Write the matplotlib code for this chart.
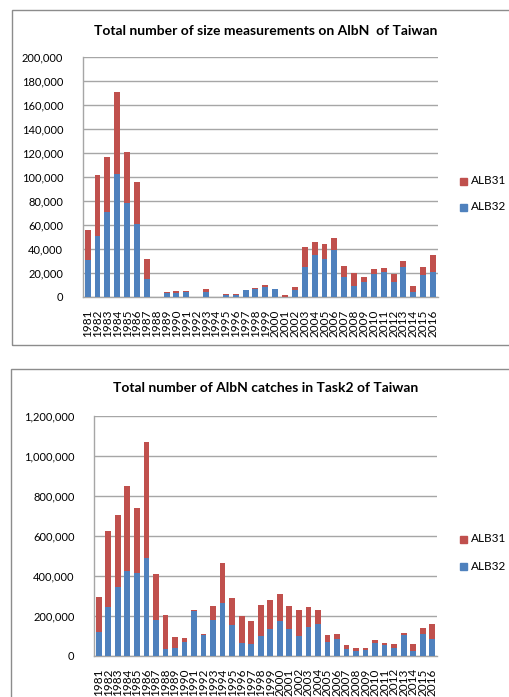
import matplotlib
matplotlib.use("Agg")
import matplotlib.pyplot as plt
from matplotlib.patches import Rectangle
from matplotlib.ticker import FuncFormatter
import numpy as np

plt.rcParams['font.family'] = ['Lato', 'DejaVu Sans']

years = [str(y) for y in range(1981, 2017)]

size_alb32 = [30500, 50500, 70500, 102000, 78500, 60500, 15000, 0, 3000, 3000, 4500, 0,
              4000, 0, 2000, 2000, 6000, 7000, 8500, 6500, 0, 6000, 25000, 35000,
              31500, 39500, 16500, 9500, 12500, 19500, 21000, 12500, 25000, 4500, 18500, 20500]
size_alb31 = [25500, 51000, 46000, 68500, 42500, 35500, 16500, 0, 1000, 2000, 500, 0,
              3000, 0, 300, 300, 0, 500, 1500, 500, 1500, 2000, 16500, 10500,
              12500, 9500, 9500, 10500, 4500, 3500, 3500, 6500, 5000, 5000, 6500, 14500]

catch_alb32 = [120000, 243000, 343000, 423000, 413000, 490000, 180000, 32000, 38000, 70000,
               222000, 103000, 180000, 262000, 152000, 63000, 58000, 97000, 135000, 173000,
               135000, 97000, 145000, 157000, 70000, 82000, 32000, 22000, 27000, 63000,
               53000, 37000, 103000, 22000, 108000, 85000]
catch_alb31 = [173000, 382000, 359000, 425000, 327000, 577000, 228000, 173000, 54000, 17000,
               6000, 5000, 68000, 200000, 135000, 137000, 115000, 156000, 142000, 137000,
               113000, 130000, 98000, 70000, 32000, 26000, 21000, 15000, 10000, 14000,
               10000, 21000, 9000, 36000, 32000, 72000]

title1 = "Total number of size measurements on AlbN  of Taiwan"
title2 = "Total number of AlbN catches in Task2 of Taiwan"

RED = "#C0504D"
BLUE = "#4F81BD"
GRID = "#a6a6a6"

fig = plt.figure(figsize=(5.10, 6.97), dpi=100)
W, H = 510, 697

# chart frames
for (x0, y0, x1, y1) in [(12, 10, 530, 345), (11, 369, 530, 720)]:
    fig.patches.append(Rectangle((x0 / W, 1 - y1 / H), (x1 - x0) / W, (y1 - y0) / H,
                                 transform=fig.transFigure, fill=False,
                                 edgecolor="#8c8c8c", linewidth=1.0, clip_on=False))

fmt = FuncFormatter(lambda v, p: f"{int(v):,}")


def draw(ax, a32, a31, ymax, step, title, title_y, leg_y1, leg_y2):
    x = np.arange(len(years))
    ax.bar(x, a32, width=0.6, color=BLUE, zorder=3)
    ax.bar(x, a31, width=0.6, bottom=a32, color=RED, zorder=3)
    ax.set_xlim(-0.5, len(years) - 0.5)
    ax.set_ylim(0, ymax)
    ax.set_yticks(np.arange(0, ymax + 1, step))
    ax.yaxis.set_major_formatter(fmt)
    ax.set_xticks(x)
    ax.set_xticklabels(years, rotation=90, fontsize=8.5)
    ax.tick_params(axis='y', length=0, labelsize=8, pad=14)
    ax.tick_params(axis='x', length=0, pad=9)
    ax.grid(axis='y', color=GRID, linewidth=1.0, zorder=0)
    for s in ['top', 'right']:
        ax.spines[s].set_visible(False)
    for s in ['left', 'bottom']:
        ax.spines[s].set_color(GRID)
        ax.spines[s].set_linewidth(1.0)
    fig.text(266 / W, 1 - title_y / H, title, ha='center', va='center',
             fontsize=10, fontweight='bold')
    # legend
    for ly, lab, col in [(leg_y1, "ALB31", RED), (leg_y2, "ALB32", BLUE)]:
        fig.patches.append(Rectangle((460 / W, 1 - (ly + 3.5) / H), 7 / W, 7 / H,
                                     transform=fig.transFigure, color=col))
        fig.text(471 / W, 1 - ly / H, lab, ha='left', va='center', fontsize=8.5)


ax1 = fig.add_axes([82.7 / W, 1 - 297 / H, (438 - 82.7) / W, (297 - 56.7) / H])
draw(ax1, size_alb32, size_alb31, 200000, 20000, title1, 31, 181, 207)

ax2 = fig.add_axes([94 / W, 1 - 655.7 / H, (437 - 94) / W, (655.7 - 415.7) / H])
draw(ax2, catch_alb32, catch_alb31, 1200000, 200000, title2, 388, 539, 566)

fig.savefig("out.png", dpi=100)
